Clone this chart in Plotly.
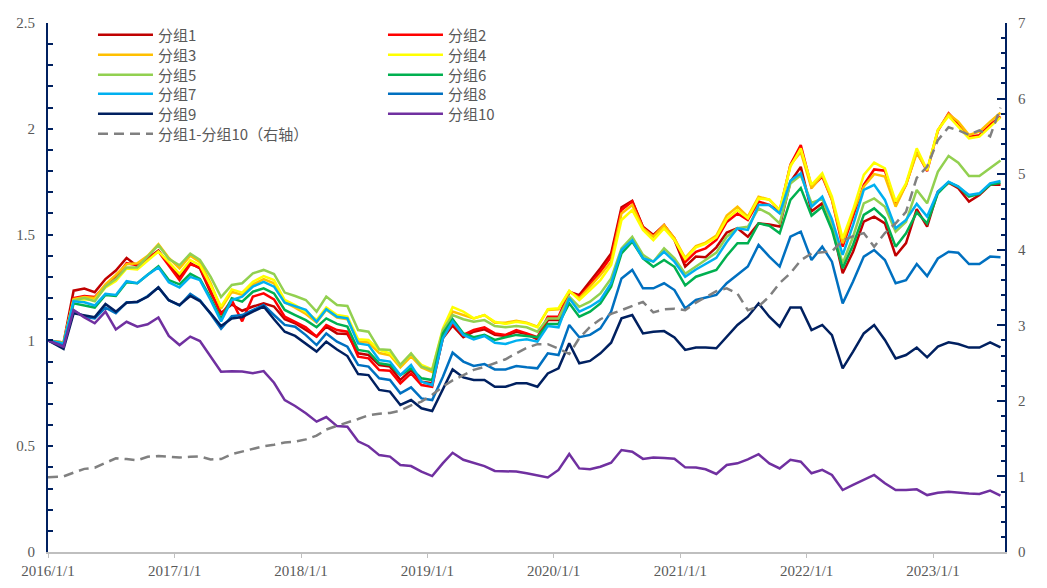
import plotly.graph_objects as go

# ---- data ----
dates = ["2016-01-01"] + [f"{2016 + k // 12}-{k % 12 + 1:02d}-15" for k in range(1, 91)]

g1 = [1.00,0.99,1.235,1.245,1.228,1.29,1.33,1.39,1.35,1.385,1.425,1.36,1.30,1.365,1.34,1.225,1.13,1.17,1.14,1.16,
      1.175,1.16,1.10,1.081,1.049,1.018,1.065,1.033,1.03,0.939,0.931,0.884,0.876,0.813,0.86,0.805,0.797,1.01,1.07,1.015,
      1.041,1.052,1.026,1.021,1.041,1.03,1.005,1.096,1.096,1.23,1.214,1.277,1.341,1.411,1.629,1.66,1.537,1.498,1.545,1.474,
      1.349,1.396,1.393,1.44,1.51,1.53,1.49,1.553,1.548,1.538,1.75,1.82,1.61,1.648,1.545,1.317,1.419,1.561,1.585,1.553,
      1.40,1.46,1.62,1.538,1.703,1.745,1.719,1.656,1.687,1.735,1.735]
g2 = [1.00,0.985,1.20,1.21,1.205,1.26,1.30,1.365,1.355,1.39,1.42,1.355,1.285,1.36,1.345,1.235,1.12,1.19,1.09,1.207,
      1.222,1.194,1.112,1.088,1.062,1.018,1.073,1.049,1.041,0.923,0.915,0.86,0.857,0.797,0.844,0.789,0.781,1.018,1.08,1.026,
      1.049,1.062,1.033,1.026,1.049,1.033,1.015,1.112,1.112,1.23,1.207,1.262,1.325,1.396,1.616,1.656,1.534,1.493,1.545,1.482,
      1.37,1.419,1.435,1.475,1.56,1.60,1.569,1.656,1.64,1.608,1.83,1.923,1.725,1.774,1.665,1.443,1.585,1.735,1.808,1.802,
      1.645,1.735,1.893,1.80,1.99,2.073,2.025,1.963,1.97,2.02,2.058]
g3 = [1.00,0.99,1.195,1.205,1.20,1.265,1.31,1.36,1.365,1.40,1.455,1.39,1.34,1.40,1.37,1.27,1.15,1.23,1.215,1.265,
      1.29,1.27,1.18,1.155,1.125,1.085,1.145,1.108,1.10,0.995,0.99,0.94,0.93,0.872,0.925,0.872,0.85,1.04,1.136,1.12,
      1.104,1.12,1.084,1.084,1.093,1.084,1.065,1.144,1.147,1.232,1.199,1.254,1.309,1.372,1.60,1.64,1.53,1.49,1.545,1.482,
      1.39,1.446,1.462,1.495,1.59,1.632,1.585,1.679,1.665,1.616,1.829,1.89,1.719,1.782,1.665,1.459,1.608,1.727,1.786,1.774,
      1.632,1.735,1.885,1.805,1.994,2.07,2.034,1.971,1.986,2.034,2.076]
g4 = [1.00,0.985,1.19,1.195,1.19,1.25,1.28,1.34,1.335,1.375,1.42,1.37,1.315,1.38,1.355,1.26,1.16,1.241,1.226,1.277,
      1.304,1.285,1.191,1.167,1.136,1.096,1.156,1.12,1.112,1.005,1.002,0.955,0.939,0.884,0.936,0.884,0.863,1.057,1.157,1.136,
      1.104,1.12,1.088,1.078,1.088,1.081,1.062,1.147,1.152,1.235,1.191,1.238,1.285,1.356,1.569,1.616,1.522,1.474,1.529,1.474,
      1.385,1.44,1.456,1.487,1.573,1.616,1.577,1.671,1.666,1.616,1.821,1.908,1.735,1.79,1.679,1.482,1.616,1.782,1.84,1.813,
      1.656,1.742,1.908,1.805,1.994,2.06,2.01,1.955,1.963,2.01,2.054]
g5 = [1.00,0.985,1.19,1.20,1.185,1.255,1.29,1.345,1.345,1.395,1.45,1.385,1.355,1.41,1.38,1.30,1.205,1.262,1.27,1.317,
      1.333,1.314,1.226,1.21,1.191,1.136,1.207,1.167,1.163,1.049,1.041,0.958,0.955,0.884,0.939,0.876,0.86,1.049,1.12,1.10,
      1.088,1.096,1.068,1.062,1.068,1.062,1.041,1.104,1.104,1.207,1.159,1.183,1.222,1.293,1.435,1.49,1.404,1.372,1.435,1.388,
      1.315,1.349,1.38,1.415,1.49,1.53,1.537,1.624,1.598,1.553,1.742,1.78,1.65,1.67,1.54,1.364,1.49,1.648,1.671,1.632,
      1.514,1.561,1.711,1.648,1.797,1.872,1.84,1.777,1.777,1.813,1.85]
g6 = [1.00,0.985,1.175,1.165,1.155,1.215,1.21,1.275,1.27,1.31,1.35,1.285,1.265,1.315,1.29,1.20,1.10,1.199,1.183,1.23,
      1.246,1.222,1.144,1.12,1.096,1.062,1.104,1.078,1.065,0.955,0.947,0.892,0.884,0.836,0.868,0.821,0.813,1.033,1.10,1.033,
      1.015,1.026,1.002,1.015,1.026,1.021,1.015,1.078,1.078,1.175,1.112,1.136,1.175,1.254,1.411,1.467,1.388,1.348,1.38,1.348,
      1.26,1.301,1.317,1.333,1.40,1.459,1.459,1.553,1.542,1.506,1.664,1.72,1.59,1.632,1.522,1.341,1.451,1.593,1.624,1.577,
      1.443,1.506,1.605,1.553,1.695,1.747,1.727,1.68,1.692,1.735,1.745]
g7 = [1.00,0.985,1.185,1.18,1.165,1.22,1.215,1.28,1.27,1.31,1.345,1.275,1.25,1.30,1.285,1.19,1.09,1.191,1.207,1.254,
      1.277,1.254,1.178,1.163,1.144,1.088,1.147,1.112,1.104,0.986,0.978,0.907,0.90,0.836,0.884,0.805,0.789,1.01,1.09,1.026,
      1.005,1.021,0.989,0.983,0.999,1.005,0.994,1.068,1.062,1.199,1.136,1.159,1.191,1.27,1.427,1.474,1.388,1.372,1.419,1.372,
      1.301,1.335,1.36,1.39,1.465,1.53,1.522,1.64,1.64,1.60,1.754,1.79,1.632,1.679,1.573,1.404,1.545,1.711,1.735,1.664,
      1.53,1.569,1.645,1.585,1.703,1.75,1.727,1.687,1.695,1.742,1.753]
g8 = [1.00,0.975,1.14,1.112,1.104,1.155,1.128,1.18,1.18,1.21,1.25,1.19,1.165,1.22,1.19,1.125,1.055,1.115,1.12,1.144,
      1.167,1.12,1.073,1.065,1.025,0.978,1.033,0.994,0.97,0.884,0.876,0.821,0.813,0.75,0.778,0.726,0.718,0.828,0.942,0.90,
      0.879,0.888,0.863,0.863,0.879,0.873,0.868,0.939,0.931,1.073,1.015,1.026,1.057,1.136,1.293,1.333,1.246,1.246,1.27,1.238,
      1.151,1.191,1.202,1.215,1.27,1.309,1.349,1.451,1.396,1.349,1.49,1.514,1.38,1.443,1.372,1.175,1.278,1.396,1.427,1.38,
      1.27,1.285,1.361,1.304,1.387,1.419,1.414,1.361,1.361,1.396,1.393]
g9 = [1.00,0.96,1.128,1.12,1.11,1.172,1.136,1.178,1.183,1.206,1.251,1.19,1.167,1.21,1.186,1.128,1.068,1.104,1.11,1.136,
      1.16,1.10,1.041,1.021,0.986,0.947,0.994,0.957,0.926,0.841,0.836,0.766,0.758,0.695,0.718,0.679,0.666,0.773,0.863,0.825,
      0.813,0.813,0.781,0.781,0.797,0.797,0.781,0.844,0.868,0.986,0.892,0.903,0.939,0.989,1.104,1.12,1.033,1.041,1.044,1.014,
      0.955,0.966,0.967,0.963,1.018,1.073,1.112,1.175,1.112,1.065,1.156,1.156,1.049,1.073,1.025,0.868,0.947,1.033,1.073,1.002,
      0.915,0.931,0.966,0.92,0.971,0.991,0.983,0.966,0.966,0.991,0.967]
g10 = [1.00,0.97,1.144,1.109,1.081,1.136,1.052,1.088,1.065,1.076,1.108,1.021,0.978,1.018,0.997,0.923,0.852,0.854,0.853,0.845,
       0.855,0.80,0.718,0.69,0.656,0.616,0.638,0.595,0.592,0.523,0.50,0.458,0.451,0.411,0.406,0.38,0.359,0.42,0.469,0.436,
       0.423,0.406,0.383,0.38,0.38,0.372,0.361,0.352,0.388,0.463,0.395,0.391,0.403,0.422,0.482,0.474,0.44,0.447,0.444,0.441,
       0.40,0.399,0.391,0.369,0.411,0.419,0.438,0.462,0.419,0.395,0.436,0.427,0.372,0.388,0.364,0.293,0.317,0.341,0.364,0.325,
       0.293,0.293,0.296,0.269,0.28,0.285,0.28,0.277,0.274,0.29,0.266]
spread = [0.99,1.00,1.05,1.10,1.115,1.18,1.24,1.23,1.215,1.26,1.27,1.26,1.25,1.26,1.265,1.225,1.23,1.295,1.33,1.37,
          1.40,1.42,1.45,1.46,1.49,1.54,1.62,1.67,1.71,1.76,1.81,1.83,1.84,1.87,1.94,1.99,2.08,2.19,2.27,2.34,
          2.41,2.45,2.50,2.55,2.63,2.70,2.75,2.75,2.69,2.62,2.83,2.98,3.08,3.15,3.20,3.25,3.31,3.17,3.21,3.22,
          3.20,3.30,3.37,3.45,3.49,3.42,3.20,3.25,3.38,3.56,3.69,3.86,3.95,3.97,3.98,4.12,4.18,4.22,4.04,4.22,
          4.35,4.50,4.95,5.10,5.45,5.62,5.58,5.52,5.58,5.50,5.88]

names = ["分组1", "分组2", "分组3", "分组4", "分组5", "分组6", "分组7", "分组8", "分组9", "分组10"]
series = [g1, g2, g3, g4, g5, g6, g7, g8, g9, g10]
colors = ["#C00000", "#FF0000", "#FFC000", "#FFFF00", "#92D050",
          "#00B050", "#00B0F0", "#0070C0", "#002060", "#7030A0"]
spread_name = "分组1-分组10（右轴）"

year_ticks = ["2016-01-01", "2017-01-01", "2018-01-01", "2019-01-01",
              "2020-01-01", "2021-01-01", "2022-01-01", "2023-01-01"]
year_labels = ["2016/1/1", "2017/1/1", "2018/1/1", "2019/1/1",
               "2020/1/1", "2021/1/1", "2022/1/1", "2023/1/1"]

for s in series + [spread]:
    assert len(s) == len(dates), len(s)

# ---- figure ----
fig = go.Figure()
legend_ids = ["legend", "legend2", "legend3", "legend4", "legend5", "legend6"]
for i, (nm, ys, c) in enumerate(zip(names, series, colors)):
    fig.add_trace(go.Scatter(x=dates, y=ys, name=nm, mode="lines",
                             line=dict(color=c, width=2.5),
                             legend=legend_ids[i // 2]))
fig.add_trace(go.Scatter(x=dates, y=spread, name=spread_name, mode="lines",
                         line=dict(color="#808080", width=2.5, dash="10px,6px"),
                         yaxis="y2", legend="legend6"))

navy = "#002060"
tick_font = dict(family="Liberation Serif, Times New Roman, serif", size=15, color="#595959")
leg_font = dict(family="Noto Sans CJK SC, sans-serif", size=15, color="#595959")

# the page body adds an 8px offset; the figure is sized so that the plot area
# lands at x 48..1005, y 23..552 in the browser window
W, H = 1039, 580
ML, MR, MT, MB = 40, 42, 15, 36
row_y = [35, 55, 75, 94, 114, 134]          # window pixel centres of legend rows
plot_top, plot_bot = 8 + MT, 8 + H - MB
layout_legends = {}
for lid, yc in zip(legend_ids, row_y):
    layout_legends[lid] = dict(
        orientation="h", entrywidth=220, entrywidthmode="pixels",
        x=0.047, xanchor="left", y=(plot_bot - yc) / (plot_bot - plot_top), yanchor="middle",
        bgcolor="rgba(0,0,0,0)", font=leg_font, itemwidth=55, tracegroupgap=0)

fig.update_layout(
    width=W, height=H,
    margin=dict(l=ML, r=MR, t=MT, b=MB, autoexpand=False),
    paper_bgcolor="white", plot_bgcolor="white",
    showlegend=True,
    xaxis=dict(type="date", range=["2016-01-01", "2023-07-28"],
               tickvals=year_ticks, ticktext=year_labels,
               showline=True, linecolor="#BFBFBF", linewidth=1.5,
               ticks="outside", ticklen=4, tickcolor="#BFBFBF", tickwidth=1,
               showgrid=False, zeroline=False, tickfont=tick_font, automargin=False),
    yaxis=dict(range=[0, 2.5], dtick=0.5, tick0=0,
               showline=True, linecolor=navy, linewidth=2,
               ticks="inside", ticklen=5, tickcolor=navy, tickwidth=1.5,
               minor=dict(dtick=0.1, ticks="inside", ticklen=5, tickcolor=navy, tickwidth=1.5),
               showgrid=False, zeroline=False, tickfont=tick_font, ticklabelstandoff=8,
               automargin=False),
    yaxis2=dict(range=[0, 7], dtick=1, tick0=0, overlaying="y", side="right",
                showline=True, linecolor=navy, linewidth=2,
                ticks="inside", ticklen=8, tickcolor=navy, tickwidth=1.5,
                minor=dict(dtick=0.2, ticks="inside", ticklen=4, tickcolor=navy, tickwidth=1.5),
                showgrid=False, zeroline=False, tickfont=tick_font, ticklabelstandoff=8,
                automargin=False),
    **layout_legends,
)

fig.write_html("out.html")
